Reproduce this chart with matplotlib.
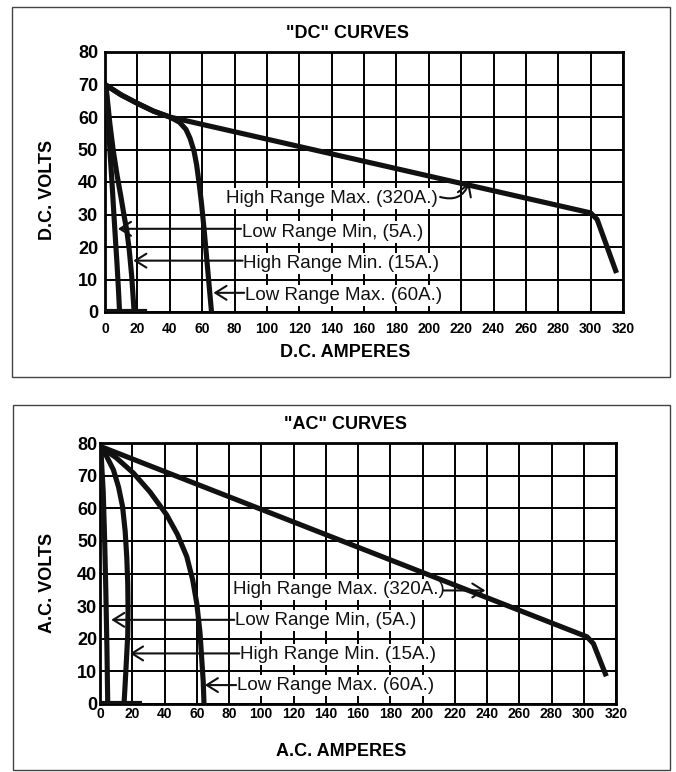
import matplotlib.pyplot as plt
from matplotlib.patches import Rectangle

plt.rcParams["font.family"] = ["Liberation Sans", "DejaVu Sans"]

W, H = 676, 772

X_TICKS = list(range(0, 321, 20))
Y_TICKS = list(range(0, 81, 10))

# --- "DC" curves: amperes / volts --------------------------------------------
dc_high_max_a = [0, 10, 20, 30, 40, 300, 304, 308, 312, 316]
dc_high_max_v = [70, 66.8, 64.2, 61.8, 60, 30.5, 28.5, 23, 17.5, 12]
dc_low_max_a = [0, 10, 20, 30, 40, 46, 50, 52.5, 55, 56.6, 58.3, 59.7, 61.3, 62.8, 64.3, 65.8]
dc_low_max_v = [70, 66.8, 64.2, 61.8, 60, 58.4, 56.2, 53.5, 49.5, 45.3, 39, 33, 25, 16.7, 8.3, 0]
dc_high_min_a = [0.5, 3, 5, 7.5, 10, 12, 13.5, 15, 16.5, 18]
dc_high_min_v = [70, 58, 50, 42, 35, 29, 25, 19, 11, 0]
dc_low_min_a = [0.5, 2, 3, 4.3, 5.5, 6.5, 7.4, 8.3, 9]
dc_low_min_v = [70, 60, 50, 40, 30, 22, 15, 7, 0]

# --- "AC" curves --------------------------------------------------------------
ac_high_max_a = [0, 302, 306, 314]
ac_high_max_v = [79, 20.6, 18.5, 8.5]
ac_low_max_a = [0, 10, 20.7, 31, 41.3, 48, 53.8, 57.5, 60, 62, 63, 64, 64.5]
ac_low_max_v = [79, 75.5, 70.8, 65, 58, 52, 45.2, 38, 30.9, 22, 14.5, 7, 0]
ac_high_min_a = [0.5, 4, 8.3, 11.5, 14, 15.6, 16.6, 17.2, 17.4, 17.2, 16.5, 15.7, 14.9]
ac_high_min_v = [79, 76, 71.8, 66.5, 60.5, 53, 45, 37, 29, 21.2, 14.5, 7, 0]
ac_low_min_a = [0.5, 1.2, 2, 2.9, 3.6, 4.3, 4.8]
ac_low_min_v = [79, 72, 65, 50, 35, 17, 0]

baseline_a = [0, 24.5]
baseline_v = [0.4, 0.4]

labels = [
    "High Range Max. (320A.)",
    "Low Range Min, (5A.)",
    "High Range Min. (15A.)",
    "Low Range Max. (60A.)",
]

# text x, text y, arrow tail (x, y), arrow tip (x, y), arrow bend
dc_notes = [
    (75, 35, 207, 35.4, 225, 39.8, 0.45),
    (84.4, 24.6, 84, 25.6, 8, 25.6, 0),
    (85.4, 15, 85, 15.8, 17.5, 15.8, 0),
    (86.4, 5.2, 86, 5.9, 67, 5.9, 0),
]
ac_notes = [
    (82.7, 35, 213, 34.8, 239, 34.8, 0),
    (83.7, 25.6, 83.3, 25.8, 7, 25.8, 0),
    (86.8, 15.3, 86.4, 15.5, 18.6, 15.5, 0),
    (84.8, 5.6, 84.4, 5.8, 65, 5.8, 0),
]


def px_axes(left, top, right, bottom):
    return [left / W, 1 - bottom / H, (right - left) / W, (bottom - top) / H]


def draw_panel(ax, curves, notes, xpad, ypad):
    ax.set_xlim(0, 320)
    ax.set_ylim(0, 80)
    ax.set_xticks(X_TICKS)
    ax.set_yticks(Y_TICKS)
    ax.set_axisbelow(True)
    ax.grid(True, color="black", lw=1.4)
    for s in ax.spines.values():
        s.set_linewidth(2)
    ax.tick_params(axis="both", length=0)
    ax.tick_params(axis="x", labelsize=10, pad=xpad)
    ax.tick_params(axis="y", labelsize=13, pad=ypad)
    for lab in ax.get_xticklabels() + ax.get_yticklabels():
        lab.set_fontweight("bold")

    for a, v in curves:
        ax.plot(a, v, color="#111111", lw=3.7, solid_capstyle="butt",
                solid_joinstyle="round", zorder=4)
    ax.plot(baseline_a, baseline_v, color="#111111", lw=3, zorder=4)

    for label, (tx, ty, ax0, ay0, ax1, ay1, rad) in zip(labels, notes):
        ax.text(tx, ty, label, fontsize=13.5, ha="left", va="center",
                color="#111111", zorder=3,
                bbox=dict(facecolor="white", edgecolor="none", pad=1.5))
        ax.annotate("", xy=(ax1, ay1), xytext=(ax0, ay0), zorder=5,
                    arrowprops=dict(arrowstyle="->,head_length=0.8,head_width=0.5",
                                    mutation_scale=10, lw=1.5, color="#111111",
                                    shrinkA=0, shrinkB=0,
                                    connectionstyle=f"arc3,rad={rad}"))


fig = plt.figure(figsize=(W / 100, H / 100), dpi=100)

# panel frames
fig.patches.append(Rectangle((12 / W, 1 - 377 / H), 658 / W, 370 / H, transform=fig.transFigure,
                             fill=False, edgecolor="#444444", lw=1))
fig.patches.append(Rectangle((13 / W, 1 - 770 / H), 657 / W, 365 / H, transform=fig.transFigure,
                             fill=False, edgecolor="#444444", lw=1))

ax_dc = fig.add_axes(px_axes(105, 52, 623, 312))
draw_panel(ax_dc,
           [(dc_high_max_a, dc_high_max_v), (dc_low_max_a, dc_low_max_v),
            (dc_high_min_a, dc_high_min_v), (dc_low_min_a, dc_low_min_v)],
           dc_notes, xpad=7, ypad=5)

ax_ac = fig.add_axes(px_axes(100, 443, 616, 704))
draw_panel(ax_ac,
           [(ac_high_max_a, ac_high_max_v), (ac_low_max_a, ac_low_max_v),
            (ac_high_min_a, ac_high_min_v), (ac_low_min_a, ac_low_min_v)],
           ac_notes, xpad=2.5, ypad=2)

bold = dict(fontsize=13, fontweight="bold", ha="center", va="center")
fig.text(348 / W, 1 - 33 / H, '"DC" CURVES', **bold)
fig.text(345 / W, 1 - 352 / H, "D.C. AMPERES", **bold)
fig.text(48 / W, 1 - 190 / H, "D.C. VOLTS", rotation=90, **bold)
fig.text(346 / W, 1 - 425 / H, '"AC" CURVES', **bold)
fig.text(341 / W, 1 - 752 / H, "A.C. AMPERES", **bold)
fig.text(48 / W, 1 - 583 / H, "A.C. VOLTS", rotation=90, **bold)

fig.savefig("out.png", dpi=100)
